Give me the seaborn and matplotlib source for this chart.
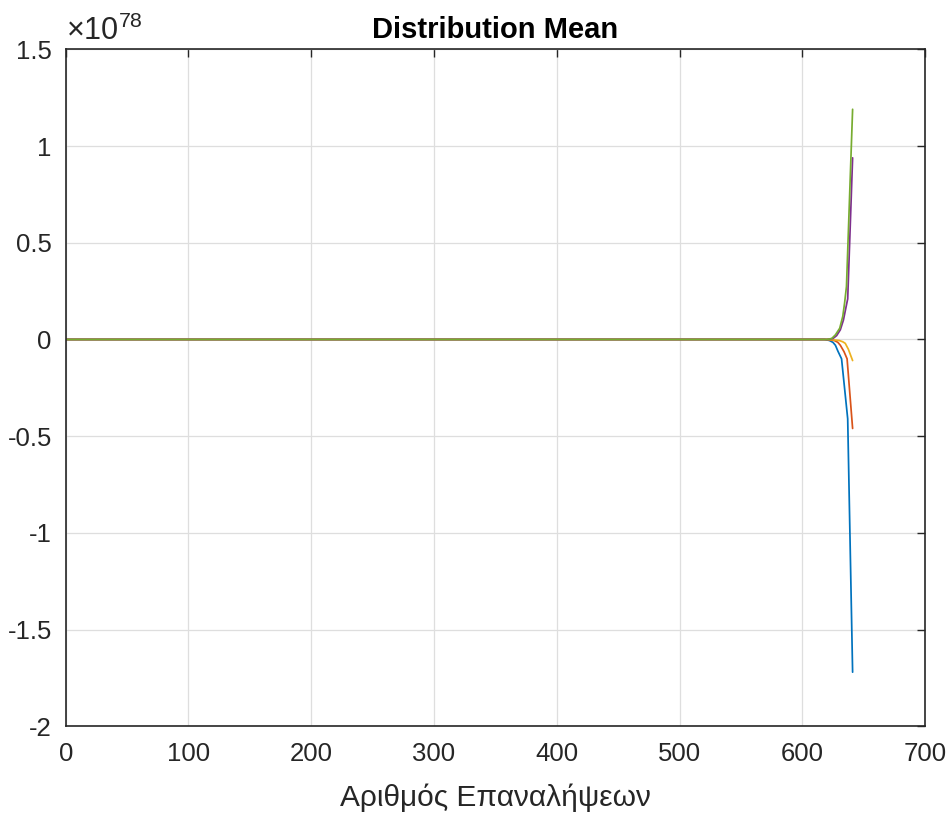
import numpy as np
import pandas as pd
import matplotlib
matplotlib.use("Agg")
import matplotlib.pyplot as plt
import seaborn as sns
from matplotlib.ticker import FuncFormatter, MultipleLocator

# Data (values in units of 1e78)
scale_exp = 78
x_blue = [0, 618, 622, 625, 627, 629, 632, 637, 641]
y_blue = [0, 0, -0.005, -0.015, -0.03, -0.06, -0.10, -0.41, -1.72]
x_orange = [0, 620, 626, 629, 631, 634, 636.5, 641]
y_orange = [0, 0, -0.005, -0.015, -0.03, -0.063, -0.10, -0.46]
x_yellow = [0, 622, 630, 633, 635, 637.5, 641]
y_yellow = [0, 0, -0.005, -0.012, -0.02, -0.05, -0.109]
x_purple = [0, 620, 625, 628, 631, 633.5, 637, 641]
y_purple = [0, 0, 0.005, 0.02, 0.05, 0.10, 0.21, 0.939]
x_green = [0, 620, 624, 627, 630.5, 633, 634.5, 636, 641]
y_green = [0, 0, 0.005, 0.024, 0.058, 0.12, 0.19, 0.274, 1.19]

series = ["s1", "s2", "s3", "s4", "s5"]
colors = ["#0072BD", "#D95319", "#EDB120", "#7E2F8E", "#77AC30"]
xs = [x_blue, x_orange, x_yellow, x_purple, x_green]
ys = [y_blue, y_orange, y_yellow, y_purple, y_green]

frames = []
for name, xv, yv in zip(series, xs, ys):
    frames.append(pd.DataFrame({"x": xv, "y": yv, "series": name}))
df = pd.concat(frames, ignore_index=True)

sns.set_theme(style="white")
plt.rcParams['font.family'] = ['Liberation Sans', 'DejaVu Sans']
plt.rcParams['mathtext.fontset'] = 'custom'
plt.rcParams['mathtext.rm'] = 'Liberation Sans'
plt.rcParams['mathtext.it'] = 'Liberation Sans'

fig = plt.figure(figsize=(9.51, 8.14), dpi=100)
ax = fig.add_axes([0.0691, 0.1077, 0.9036, 0.8317])

sns.lineplot(data=df, x="x", y="y", hue="series", hue_order=series,
             palette=colors, sort=False, estimator=None, linewidth=1.25,
             legend=False, ax=ax)

ax.set_xlim(0, 700)
ax.set_ylim(-2, 1.5)
ax.xaxis.set_major_locator(MultipleLocator(100))
ax.yaxis.set_major_locator(MultipleLocator(0.5))
ax.yaxis.set_major_formatter(FuncFormatter(lambda v, p: "%g" % v))
ax.xaxis.set_major_formatter(FuncFormatter(lambda v, p: "%g" % v))

ax.grid(True, color="#dedede", linewidth=0.9)
ax.set_axisbelow(True)
for s in ax.spines.values():
    s.set_color("#262626")
    s.set_linewidth(1.2)
    s.set_visible(True)
ax.tick_params(direction="in", length=6, width=1.0, colors="#262626",
               labelsize=18.5, top=True, right=True, labelcolor="#262626")
ax.tick_params(axis="x", pad=11)
ax.tick_params(axis="y", pad=10)

ax.set_title("Distribution Mean", fontsize=21, fontweight="bold", color="black", pad=8.5)
ax.set_xlabel("Αριθμός Επαναλήψεων", fontsize=21.5, color="#262626", labelpad=13)
ax.set_ylabel("")
ax.text(0.0, 1.004, r"$\times10^{%d}$" % scale_exp, transform=ax.transAxes,
        fontsize=22, color="#262626", ha="left", va="bottom")

fig.savefig("out.png", dpi=100)
